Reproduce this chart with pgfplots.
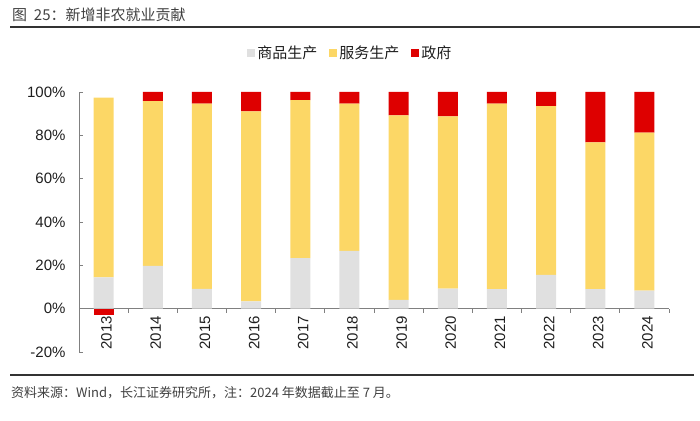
\documentclass[border=0pt]{standalone}
\usepackage{pgfplots}
\pgfplotsset{compat=1.18}
\usepackage{fontspec}
\setmainfont{Liberation Sans}
\newfontfamily\cjk{Noto Sans CJK SC}
\definecolor{cgrey}{RGB}{224,224,224}
\definecolor{cyellow}{RGB}{252,215,102}
\definecolor{cred}{RGB}{222,0,0}
\definecolor{axgray}{RGB}{128,128,128}
\definecolor{txt}{RGB}{30,30,30}
\begin{document}
\begin{tikzpicture}
\path[use as bounding box] (0pt,0pt) rectangle (700pt,420pt);
\node[anchor=west, inner sep=0, text=txt!85] at (12pt,405pt) {\fontsize{15}{18}\selectfont\cjk 图\hspace{0.45em}25：新增非农就业贡献};
\draw[line width=1.5pt, black!80] (10pt,393pt) -- (700pt,393pt);
\begin{axis}[
  at={(79pt,68pt)}, anchor=south west,
  scale only axis, width=590pt, height=260pt,
  xmin=-0.5, xmax=11.5, ymin=-20, ymax=100,
  ybar stacked, bar width=20pt,
  axis x line*=middle, axis y line*=left,
  axis line style={draw=axgray, line width=0.8pt},
  xtick={0,...,11},
  xticklabels={2013,2014,2015,2016,2017,2018,2019,2020,2021,2022,2023,2024},
  major x tick style={draw=none},
  minor xtick={0.5,1.5,...,11.5},
  minor x tick style={draw=axgray, line width=0.8pt},
  minor tick length=4pt,
  xtick align=outside,
  ytick={-20,0,20,40,60,80,100},
  ytick align=inside,
  major tick length=4pt,
  y tick style={draw=axgray, line width=0.8pt},
  /pgf/number format/assume math mode=true,
  yticklabel={\pgfmathprintnumber{\tick}\%},
  tick label style={font=\fontsize{15}{18}\selectfont, text=txt},
  yticklabel style={xshift=-10pt},
  xticklabel style={rotate=90, anchor=east, yshift=-3pt},
  legend style={at={(axis description cs:0.28,1.15)}, anchor=west, draw=none, fill=none,
    legend columns=3, font=\fontsize{15}{18}\selectfont\cjk, text=txt,
    /tikz/every even column/.append style={column sep=10pt}},
  legend image code/.code={\fill[#1] (0pt,-4pt) rectangle (8pt,4pt);},
]
\addplot[fill=cgrey, draw=none] coordinates {(0,14.4) (1,19.8) (2,9.1) (3,3.4) (4,23.3) (5,26.7) (6,4.0) (7,9.3) (8,9.0) (9,15.6) (10,9.0) (11,8.3)};
\addplot[fill=cyellow, draw=none] coordinates {(0,83.0) (1,76.0) (2,85.5) (3,87.7) (4,72.9) (5,67.9) (6,85.2) (7,79.5) (8,85.6) (9,77.9) (10,67.7) (11,73.0)};
\addplot[fill=cred, draw=none] coordinates {(0,0) (1,4.2) (2,5.4) (3,8.9) (4,3.8) (5,5.4) (6,10.8) (7,11.2) (8,5.4) (9,6.5) (10,23.3) (11,18.7)};
\legend{商品生产,服务生产,政府}
\end{axis}
\begin{axis}[
  at={(79pt,68pt)}, anchor=south west,
  scale only axis, width=590pt, height=260pt,
  xmin=-0.5, xmax=11.5, ymin=-20, ymax=100,
  hide axis, ybar, bar width=20pt,
]
\addplot[fill=cred, draw=none] coordinates {(0,-2.8)};
\end{axis}
\draw[line width=1.5pt, black!80] (10pt,45pt) -- (694pt,45pt);
\node[anchor=west, inner sep=0, text=txt!85] at (11pt,27pt) {\fontsize{13}{16}\selectfont\cjk 资料来源：Wind，长江证券研究所，注：2024 年数据截止至 7 月。};
\end{tikzpicture}
\end{document}
